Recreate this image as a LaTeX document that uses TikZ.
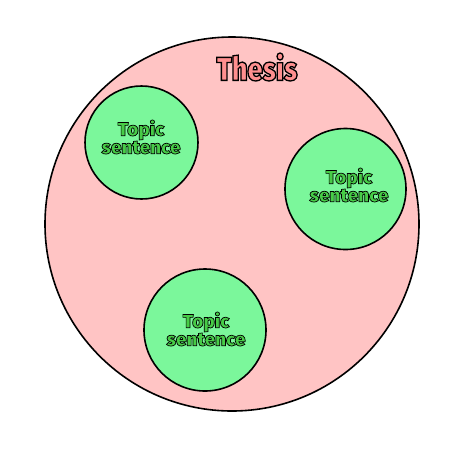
\documentclass[tikz,border=0pt]{standalone}
\usepackage{fontspec}
\newfontfamily\impthesis[FakeStretch=0.83]{Fira Sans Black}
\newfontfamily\imptopic[FakeStretch=1.0]{Fira Sans Black}
\definecolor{bigfill}{HTML}{FFC4C4}
\definecolor{smallfill}{HTML}{7BF79B}
% outlined text via PDF text render mode: #1 = fill rgb, #2 = stroke width, #3 = text
\newcommand\olt[3]{\special{pdf:literal direct #1 rg 0 0 0 RG #2 w 2 Tr}#3\special{pdf:literal direct 0 Tr 0 g 0 G}}
\tikzset{
  bigcirc/.style={circle, draw=black, line width=1.6pt, fill=bigfill, minimum size=374pt, inner sep=0pt},
  smallcirc/.style={circle, draw=black, line width=1.6pt, fill=smallfill, inner sep=0pt},
  topiclabel/.style={align=center, font=\imptopic\fontsize{19}{16}\selectfont, inner sep=0pt},
  thesislabel/.style={font=\impthesis\fontsize{33}{33}\selectfont, inner sep=0pt}
}
\begin{document}
\begin{tikzpicture}[x=1pt,y=-1pt]
\useasboundingbox (0,0) rectangle (471,448);
\node[bigcirc] (thesis) at (232,224) {};
\node[thesislabel] (thesislbl) at (257,67) {\olt{1 0.56 0.56}{1.3}{Thesis}};
\node[smallcirc, minimum size=113pt] (t1) at (141.5,142.5) {};
\node[smallcirc, minimum size=121pt] (t2) at (345.5,189) {};
\node[smallcirc, minimum size=122pt] (t3) at (205,330) {};
\node[topiclabel] (l1) at (141,137) {\olt{0.28 0.8 0.28}{0.7}{Topic}\\\olt{0.28 0.8 0.28}{0.7}{sentence}};
\node[topiclabel] (l2) at (349,185) {\olt{0.28 0.8 0.28}{0.7}{Topic}\\\olt{0.28 0.8 0.28}{0.7}{sentence}};
\node[topiclabel] (l3) at (206,329) {\olt{0.28 0.8 0.28}{0.7}{Topic}\\\olt{0.28 0.8 0.28}{0.7}{sentence}};
\end{tikzpicture}
\end{document}
